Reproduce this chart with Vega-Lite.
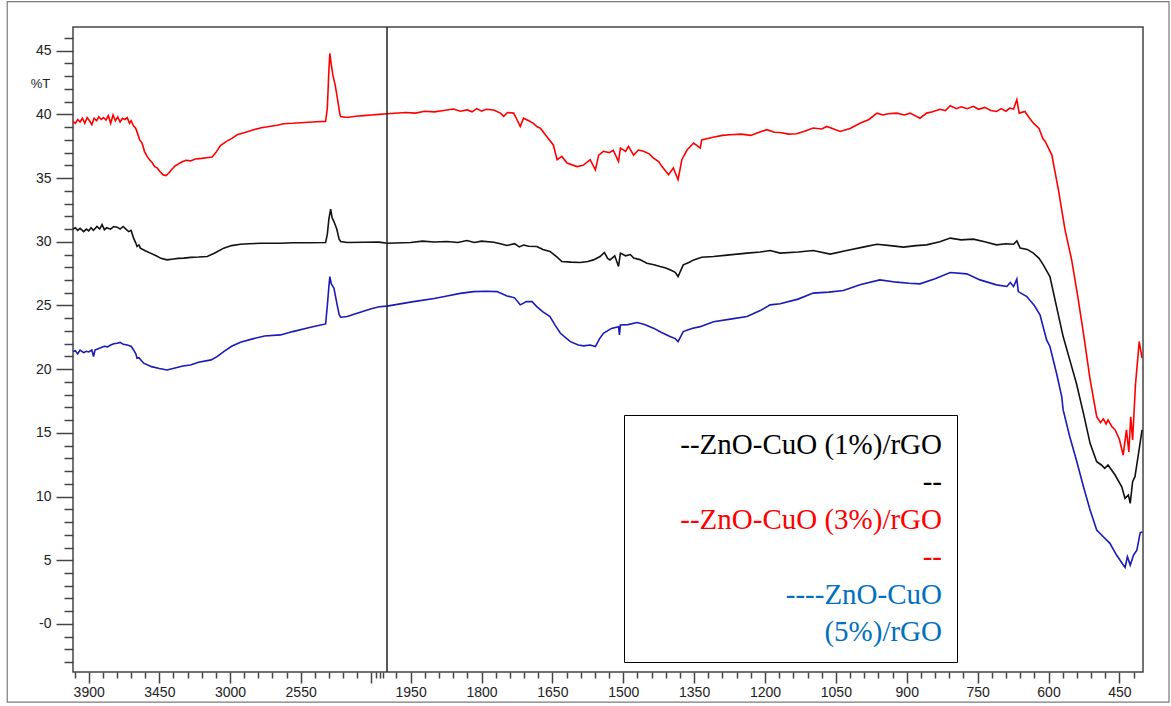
{
  "$schema": "https://vega.github.io/schema/vega-lite/v6.json",
  "width": 1070,
  "height": 645,
  "autosize": {"type": "none"},
  "padding": {"left": 73, "top": 27, "right": 28, "bottom": 34},
  "background": "#ffffff",
  "config": {
    "view": {"stroke": "#444444", "strokeWidth": 1.5},
    "font": "Liberation Sans"
  },
  "datasets": {
    "spectra": [
      {"sample": "ZnO-CuO (3%)/rGO", "wn": 4000, "T": 39.45}, {"sample": "ZnO-CuO (3%)/rGO", "wn": 3985, "T": 39.3}, {"sample": "ZnO-CuO (3%)/rGO", "wn": 3970, "T": 39.6}, {"sample": "ZnO-CuO (3%)/rGO", "wn": 3955, "T": 39.4}, {"sample": "ZnO-CuO (3%)/rGO", "wn": 3940, "T": 39.7}, {"sample": "ZnO-CuO (3%)/rGO", "wn": 3925, "T": 39.3}, {"sample": "ZnO-CuO (3%)/rGO", "wn": 3910, "T": 39.75}, {"sample": "ZnO-CuO (3%)/rGO", "wn": 3895, "T": 39.5}, {"sample": "ZnO-CuO (3%)/rGO", "wn": 3880, "T": 39.2}, {"sample": "ZnO-CuO (3%)/rGO", "wn": 3865, "T": 39.7}, {"sample": "ZnO-CuO (3%)/rGO", "wn": 3850, "T": 39.5}, {"sample": "ZnO-CuO (3%)/rGO", "wn": 3835, "T": 39.8}, {"sample": "ZnO-CuO (3%)/rGO", "wn": 3820, "T": 39.6}, {"sample": "ZnO-CuO (3%)/rGO", "wn": 3805, "T": 39.75}, {"sample": "ZnO-CuO (3%)/rGO", "wn": 3790, "T": 39.55}, {"sample": "ZnO-CuO (3%)/rGO", "wn": 3775, "T": 39.9}, {"sample": "ZnO-CuO (3%)/rGO", "wn": 3760, "T": 39.3}, {"sample": "ZnO-CuO (3%)/rGO", "wn": 3745, "T": 39.95}, {"sample": "ZnO-CuO (3%)/rGO", "wn": 3730, "T": 39.5}, {"sample": "ZnO-CuO (3%)/rGO", "wn": 3715, "T": 39.8}, {"sample": "ZnO-CuO (3%)/rGO", "wn": 3700, "T": 39.4}, {"sample": "ZnO-CuO (3%)/rGO", "wn": 3685, "T": 39.7}, {"sample": "ZnO-CuO (3%)/rGO", "wn": 3670, "T": 39.6}, {"sample": "ZnO-CuO (3%)/rGO", "wn": 3655, "T": 39.75}, {"sample": "ZnO-CuO (3%)/rGO", "wn": 3640, "T": 39.3}, {"sample": "ZnO-CuO (3%)/rGO", "wn": 3630, "T": 39.5}, {"sample": "ZnO-CuO (3%)/rGO", "wn": 3615, "T": 39.1}, {"sample": "ZnO-CuO (3%)/rGO", "wn": 3600, "T": 38.9}, {"sample": "ZnO-CuO (3%)/rGO", "wn": 3590, "T": 38.55}, {"sample": "ZnO-CuO (3%)/rGO", "wn": 3575, "T": 38.0}, {"sample": "ZnO-CuO (3%)/rGO", "wn": 3560, "T": 37.75}, {"sample": "ZnO-CuO (3%)/rGO", "wn": 3545, "T": 37.1}, {"sample": "ZnO-CuO (3%)/rGO", "wn": 3528, "T": 36.7}, {"sample": "ZnO-CuO (3%)/rGO", "wn": 3510, "T": 36.4}, {"sample": "ZnO-CuO (3%)/rGO", "wn": 3495, "T": 36.2}, {"sample": "ZnO-CuO (3%)/rGO", "wn": 3480, "T": 35.9}, {"sample": "ZnO-CuO (3%)/rGO", "wn": 3464, "T": 35.8}, {"sample": "ZnO-CuO (3%)/rGO", "wn": 3445, "T": 35.5}, {"sample": "ZnO-CuO (3%)/rGO", "wn": 3425, "T": 35.25}, {"sample": "ZnO-CuO (3%)/rGO", "wn": 3407, "T": 35.2}, {"sample": "ZnO-CuO (3%)/rGO", "wn": 3390, "T": 35.4}, {"sample": "ZnO-CuO (3%)/rGO", "wn": 3370, "T": 35.7}, {"sample": "ZnO-CuO (3%)/rGO", "wn": 3350, "T": 35.95}, {"sample": "ZnO-CuO (3%)/rGO", "wn": 3330, "T": 36.1}, {"sample": "ZnO-CuO (3%)/rGO", "wn": 3316, "T": 36.2}, {"sample": "ZnO-CuO (3%)/rGO", "wn": 3300, "T": 36.3}, {"sample": "ZnO-CuO (3%)/rGO", "wn": 3280, "T": 36.4}, {"sample": "ZnO-CuO (3%)/rGO", "wn": 3252, "T": 36.35}, {"sample": "ZnO-CuO (3%)/rGO", "wn": 3220, "T": 36.5}, {"sample": "ZnO-CuO (3%)/rGO", "wn": 3180, "T": 36.55}, {"sample": "ZnO-CuO (3%)/rGO", "wn": 3150, "T": 36.6}, {"sample": "ZnO-CuO (3%)/rGO", "wn": 3114, "T": 36.65}, {"sample": "ZnO-CuO (3%)/rGO", "wn": 3090, "T": 37.0}, {"sample": "ZnO-CuO (3%)/rGO", "wn": 3061, "T": 37.56}, {"sample": "ZnO-CuO (3%)/rGO", "wn": 3020, "T": 37.9}, {"sample": "ZnO-CuO (3%)/rGO", "wn": 2990, "T": 38.1}, {"sample": "ZnO-CuO (3%)/rGO", "wn": 2954, "T": 38.4}, {"sample": "ZnO-CuO (3%)/rGO", "wn": 2900, "T": 38.6}, {"sample": "ZnO-CuO (3%)/rGO", "wn": 2850, "T": 38.8}, {"sample": "ZnO-CuO (3%)/rGO", "wn": 2800, "T": 38.95}, {"sample": "ZnO-CuO (3%)/rGO", "wn": 2750, "T": 39.05}, {"sample": "ZnO-CuO (3%)/rGO", "wn": 2700, "T": 39.15}, {"sample": "ZnO-CuO (3%)/rGO", "wn": 2659, "T": 39.27}, {"sample": "ZnO-CuO (3%)/rGO", "wn": 2600, "T": 39.3}, {"sample": "ZnO-CuO (3%)/rGO", "wn": 2550, "T": 39.35}, {"sample": "ZnO-CuO (3%)/rGO", "wn": 2500, "T": 39.38}, {"sample": "ZnO-CuO (3%)/rGO", "wn": 2450, "T": 39.42}, {"sample": "ZnO-CuO (3%)/rGO", "wn": 2391, "T": 39.45}, {"sample": "ZnO-CuO (3%)/rGO", "wn": 2380, "T": 40.5}, {"sample": "ZnO-CuO (3%)/rGO", "wn": 2370, "T": 43.5}, {"sample": "ZnO-CuO (3%)/rGO", "wn": 2364, "T": 44.8}, {"sample": "ZnO-CuO (3%)/rGO", "wn": 2356, "T": 44.0}, {"sample": "ZnO-CuO (3%)/rGO", "wn": 2345, "T": 43.1}, {"sample": "ZnO-CuO (3%)/rGO", "wn": 2330, "T": 42.3}, {"sample": "ZnO-CuO (3%)/rGO", "wn": 2315, "T": 41.2}, {"sample": "ZnO-CuO (3%)/rGO", "wn": 2300, "T": 40.0}, {"sample": "ZnO-CuO (3%)/rGO", "wn": 2295, "T": 39.84}, {"sample": "ZnO-CuO (3%)/rGO", "wn": 2253, "T": 39.76}, {"sample": "ZnO-CuO (3%)/rGO", "wn": 2200, "T": 39.85}, {"sample": "ZnO-CuO (3%)/rGO", "wn": 2150, "T": 39.9}, {"sample": "ZnO-CuO (3%)/rGO", "wn": 2100, "T": 39.95}, {"sample": "ZnO-CuO (3%)/rGO", "wn": 2050, "T": 40.0}, {"sample": "ZnO-CuO (3%)/rGO", "wn": 2000, "T": 40.05}, {"sample": "ZnO-CuO (3%)/rGO", "wn": 1960, "T": 40.15}, {"sample": "ZnO-CuO (3%)/rGO", "wn": 1940, "T": 40.1}, {"sample": "ZnO-CuO (3%)/rGO", "wn": 1920, "T": 40.25}, {"sample": "ZnO-CuO (3%)/rGO", "wn": 1900, "T": 40.2}, {"sample": "ZnO-CuO (3%)/rGO", "wn": 1880, "T": 40.3}, {"sample": "ZnO-CuO (3%)/rGO", "wn": 1859, "T": 40.42}, {"sample": "ZnO-CuO (3%)/rGO", "wn": 1845, "T": 40.25}, {"sample": "ZnO-CuO (3%)/rGO", "wn": 1830, "T": 40.35}, {"sample": "ZnO-CuO (3%)/rGO", "wn": 1820, "T": 40.2}, {"sample": "ZnO-CuO (3%)/rGO", "wn": 1810, "T": 40.45}, {"sample": "ZnO-CuO (3%)/rGO", "wn": 1800, "T": 40.25}, {"sample": "ZnO-CuO (3%)/rGO", "wn": 1790, "T": 40.4}, {"sample": "ZnO-CuO (3%)/rGO", "wn": 1774, "T": 40.35}, {"sample": "ZnO-CuO (3%)/rGO", "wn": 1760, "T": 40.1}, {"sample": "ZnO-CuO (3%)/rGO", "wn": 1753, "T": 39.85}, {"sample": "ZnO-CuO (3%)/rGO", "wn": 1745, "T": 40.15}, {"sample": "ZnO-CuO (3%)/rGO", "wn": 1732, "T": 40.1}, {"sample": "ZnO-CuO (3%)/rGO", "wn": 1725, "T": 39.6}, {"sample": "ZnO-CuO (3%)/rGO", "wn": 1718, "T": 39.05}, {"sample": "ZnO-CuO (3%)/rGO", "wn": 1711, "T": 39.7}, {"sample": "ZnO-CuO (3%)/rGO", "wn": 1700, "T": 39.5}, {"sample": "ZnO-CuO (3%)/rGO", "wn": 1690, "T": 39.3}, {"sample": "ZnO-CuO (3%)/rGO", "wn": 1683, "T": 39.05}, {"sample": "ZnO-CuO (3%)/rGO", "wn": 1675, "T": 38.9}, {"sample": "ZnO-CuO (3%)/rGO", "wn": 1662, "T": 38.27}, {"sample": "ZnO-CuO (3%)/rGO", "wn": 1648, "T": 37.6}, {"sample": "ZnO-CuO (3%)/rGO", "wn": 1640, "T": 36.44}, {"sample": "ZnO-CuO (3%)/rGO", "wn": 1630, "T": 36.7}, {"sample": "ZnO-CuO (3%)/rGO", "wn": 1619, "T": 36.18}, {"sample": "ZnO-CuO (3%)/rGO", "wn": 1598, "T": 35.9}, {"sample": "ZnO-CuO (3%)/rGO", "wn": 1585, "T": 36.0}, {"sample": "ZnO-CuO (3%)/rGO", "wn": 1570, "T": 36.44}, {"sample": "ZnO-CuO (3%)/rGO", "wn": 1559, "T": 35.65}, {"sample": "ZnO-CuO (3%)/rGO", "wn": 1552, "T": 36.8}, {"sample": "ZnO-CuO (3%)/rGO", "wn": 1542, "T": 37.1}, {"sample": "ZnO-CuO (3%)/rGO", "wn": 1530, "T": 37.0}, {"sample": "ZnO-CuO (3%)/rGO", "wn": 1521, "T": 37.17}, {"sample": "ZnO-CuO (3%)/rGO", "wn": 1510, "T": 36.3}, {"sample": "ZnO-CuO (3%)/rGO", "wn": 1506, "T": 37.36}, {"sample": "ZnO-CuO (3%)/rGO", "wn": 1495, "T": 37.1}, {"sample": "ZnO-CuO (3%)/rGO", "wn": 1489, "T": 37.5}, {"sample": "ZnO-CuO (3%)/rGO", "wn": 1478, "T": 36.8}, {"sample": "ZnO-CuO (3%)/rGO", "wn": 1468, "T": 37.2}, {"sample": "ZnO-CuO (3%)/rGO", "wn": 1457, "T": 37.1}, {"sample": "ZnO-CuO (3%)/rGO", "wn": 1445, "T": 36.9}, {"sample": "ZnO-CuO (3%)/rGO", "wn": 1436, "T": 36.57}, {"sample": "ZnO-CuO (3%)/rGO", "wn": 1425, "T": 36.3}, {"sample": "ZnO-CuO (3%)/rGO", "wn": 1418, "T": 35.9}, {"sample": "ZnO-CuO (3%)/rGO", "wn": 1404, "T": 35.26}, {"sample": "ZnO-CuO (3%)/rGO", "wn": 1394, "T": 35.8}, {"sample": "ZnO-CuO (3%)/rGO", "wn": 1384, "T": 34.87}, {"sample": "ZnO-CuO (3%)/rGO", "wn": 1376, "T": 36.44}, {"sample": "ZnO-CuO (3%)/rGO", "wn": 1365, "T": 37.2}, {"sample": "ZnO-CuO (3%)/rGO", "wn": 1351, "T": 37.75}, {"sample": "ZnO-CuO (3%)/rGO", "wn": 1337, "T": 37.36}, {"sample": "ZnO-CuO (3%)/rGO", "wn": 1334, "T": 38.0}, {"sample": "ZnO-CuO (3%)/rGO", "wn": 1310, "T": 38.2}, {"sample": "ZnO-CuO (3%)/rGO", "wn": 1290, "T": 38.35}, {"sample": "ZnO-CuO (3%)/rGO", "wn": 1274, "T": 38.4}, {"sample": "ZnO-CuO (3%)/rGO", "wn": 1250, "T": 38.45}, {"sample": "ZnO-CuO (3%)/rGO", "wn": 1230, "T": 38.35}, {"sample": "ZnO-CuO (3%)/rGO", "wn": 1217, "T": 38.54}, {"sample": "ZnO-CuO (3%)/rGO", "wn": 1196, "T": 38.8}, {"sample": "ZnO-CuO (3%)/rGO", "wn": 1180, "T": 38.6}, {"sample": "ZnO-CuO (3%)/rGO", "wn": 1168, "T": 38.58}, {"sample": "ZnO-CuO (3%)/rGO", "wn": 1150, "T": 38.45}, {"sample": "ZnO-CuO (3%)/rGO", "wn": 1133, "T": 38.48}, {"sample": "ZnO-CuO (3%)/rGO", "wn": 1115, "T": 38.7}, {"sample": "ZnO-CuO (3%)/rGO", "wn": 1098, "T": 38.93}, {"sample": "ZnO-CuO (3%)/rGO", "wn": 1080, "T": 38.85}, {"sample": "ZnO-CuO (3%)/rGO", "wn": 1069, "T": 39.05}, {"sample": "ZnO-CuO (3%)/rGO", "wn": 1041, "T": 38.66}, {"sample": "ZnO-CuO (3%)/rGO", "wn": 1020, "T": 38.9}, {"sample": "ZnO-CuO (3%)/rGO", "wn": 999, "T": 39.31}, {"sample": "ZnO-CuO (3%)/rGO", "wn": 980, "T": 39.6}, {"sample": "ZnO-CuO (3%)/rGO", "wn": 963, "T": 40.1}, {"sample": "ZnO-CuO (3%)/rGO", "wn": 950, "T": 39.95}, {"sample": "ZnO-CuO (3%)/rGO", "wn": 940, "T": 40.05}, {"sample": "ZnO-CuO (3%)/rGO", "wn": 921, "T": 40.1}, {"sample": "ZnO-CuO (3%)/rGO", "wn": 905, "T": 39.95}, {"sample": "ZnO-CuO (3%)/rGO", "wn": 893, "T": 40.1}, {"sample": "ZnO-CuO (3%)/rGO", "wn": 872, "T": 39.7}, {"sample": "ZnO-CuO (3%)/rGO", "wn": 858, "T": 40.1}, {"sample": "ZnO-CuO (3%)/rGO", "wn": 845, "T": 40.2}, {"sample": "ZnO-CuO (3%)/rGO", "wn": 830, "T": 40.4}, {"sample": "ZnO-CuO (3%)/rGO", "wn": 818, "T": 40.3}, {"sample": "ZnO-CuO (3%)/rGO", "wn": 808, "T": 40.68}, {"sample": "ZnO-CuO (3%)/rGO", "wn": 795, "T": 40.45}, {"sample": "ZnO-CuO (3%)/rGO", "wn": 785, "T": 40.6}, {"sample": "ZnO-CuO (3%)/rGO", "wn": 772, "T": 40.45}, {"sample": "ZnO-CuO (3%)/rGO", "wn": 759, "T": 40.63}, {"sample": "ZnO-CuO (3%)/rGO", "wn": 748, "T": 40.4}, {"sample": "ZnO-CuO (3%)/rGO", "wn": 735, "T": 40.55}, {"sample": "ZnO-CuO (3%)/rGO", "wn": 722, "T": 40.3}, {"sample": "ZnO-CuO (3%)/rGO", "wn": 710, "T": 40.23}, {"sample": "ZnO-CuO (3%)/rGO", "wn": 700, "T": 40.45}, {"sample": "ZnO-CuO (3%)/rGO", "wn": 690, "T": 40.25}, {"sample": "ZnO-CuO (3%)/rGO", "wn": 682, "T": 40.5}, {"sample": "ZnO-CuO (3%)/rGO", "wn": 674, "T": 40.42}, {"sample": "ZnO-CuO (3%)/rGO", "wn": 667, "T": 41.15}, {"sample": "ZnO-CuO (3%)/rGO", "wn": 662, "T": 40.1}, {"sample": "ZnO-CuO (3%)/rGO", "wn": 650, "T": 40.23}, {"sample": "ZnO-CuO (3%)/rGO", "wn": 640, "T": 39.7}, {"sample": "ZnO-CuO (3%)/rGO", "wn": 632, "T": 39.31}, {"sample": "ZnO-CuO (3%)/rGO", "wn": 620, "T": 38.9}, {"sample": "ZnO-CuO (3%)/rGO", "wn": 612, "T": 38.1}, {"sample": "ZnO-CuO (3%)/rGO", "wn": 607, "T": 37.88}, {"sample": "ZnO-CuO (3%)/rGO", "wn": 593, "T": 36.83}, {"sample": "ZnO-CuO (3%)/rGO", "wn": 579, "T": 34.08}, {"sample": "ZnO-CuO (3%)/rGO", "wn": 565, "T": 30.94}, {"sample": "ZnO-CuO (3%)/rGO", "wn": 551, "T": 28.58}, {"sample": "ZnO-CuO (3%)/rGO", "wn": 538, "T": 25.7}, {"sample": "ZnO-CuO (3%)/rGO", "wn": 526, "T": 22.82}, {"sample": "ZnO-CuO (3%)/rGO", "wn": 512, "T": 19.2}, {"sample": "ZnO-CuO (3%)/rGO", "wn": 498, "T": 16.27}, {"sample": "ZnO-CuO (3%)/rGO", "wn": 490, "T": 15.8}, {"sample": "ZnO-CuO (3%)/rGO", "wn": 484, "T": 16.1}, {"sample": "ZnO-CuO (3%)/rGO", "wn": 478, "T": 15.7}, {"sample": "ZnO-CuO (3%)/rGO", "wn": 474, "T": 16.01}, {"sample": "ZnO-CuO (3%)/rGO", "wn": 466, "T": 15.5}, {"sample": "ZnO-CuO (3%)/rGO", "wn": 459, "T": 15.23}, {"sample": "ZnO-CuO (3%)/rGO", "wn": 450, "T": 14.5}, {"sample": "ZnO-CuO (3%)/rGO", "wn": 442, "T": 13.26}, {"sample": "ZnO-CuO (3%)/rGO", "wn": 435, "T": 15.23}, {"sample": "ZnO-CuO (3%)/rGO", "wn": 430, "T": 13.5}, {"sample": "ZnO-CuO (3%)/rGO", "wn": 426, "T": 16.27}, {"sample": "ZnO-CuO (3%)/rGO", "wn": 422, "T": 14.44}, {"sample": "ZnO-CuO (3%)/rGO", "wn": 416, "T": 18.76}, {"sample": "ZnO-CuO (3%)/rGO", "wn": 408, "T": 22.16}, {"sample": "ZnO-CuO (3%)/rGO", "wn": 402, "T": 20.86},

      {"sample": "ZnO-CuO (1%)/rGO", "wn": 4000, "T": 30.99}, {"sample": "ZnO-CuO (1%)/rGO", "wn": 3985, "T": 31.1}, {"sample": "ZnO-CuO (1%)/rGO", "wn": 3970, "T": 30.9}, {"sample": "ZnO-CuO (1%)/rGO", "wn": 3955, "T": 31.05}, {"sample": "ZnO-CuO (1%)/rGO", "wn": 3932, "T": 30.8}, {"sample": "ZnO-CuO (1%)/rGO", "wn": 3915, "T": 31.0}, {"sample": "ZnO-CuO (1%)/rGO", "wn": 3900, "T": 30.85}, {"sample": "ZnO-CuO (1%)/rGO", "wn": 3885, "T": 31.1}, {"sample": "ZnO-CuO (1%)/rGO", "wn": 3870, "T": 30.9}, {"sample": "ZnO-CuO (1%)/rGO", "wn": 3847, "T": 31.2}, {"sample": "ZnO-CuO (1%)/rGO", "wn": 3830, "T": 31.0}, {"sample": "ZnO-CuO (1%)/rGO", "wn": 3815, "T": 31.35}, {"sample": "ZnO-CuO (1%)/rGO", "wn": 3800, "T": 30.95}, {"sample": "ZnO-CuO (1%)/rGO", "wn": 3785, "T": 31.1}, {"sample": "ZnO-CuO (1%)/rGO", "wn": 3762, "T": 30.99}, {"sample": "ZnO-CuO (1%)/rGO", "wn": 3740, "T": 31.2}, {"sample": "ZnO-CuO (1%)/rGO", "wn": 3719, "T": 31.15}, {"sample": "ZnO-CuO (1%)/rGO", "wn": 3700, "T": 31.0}, {"sample": "ZnO-CuO (1%)/rGO", "wn": 3680, "T": 31.2}, {"sample": "ZnO-CuO (1%)/rGO", "wn": 3660, "T": 30.95}, {"sample": "ZnO-CuO (1%)/rGO", "wn": 3645, "T": 30.8}, {"sample": "ZnO-CuO (1%)/rGO", "wn": 3630, "T": 30.9}, {"sample": "ZnO-CuO (1%)/rGO", "wn": 3614, "T": 30.29}, {"sample": "ZnO-CuO (1%)/rGO", "wn": 3600, "T": 29.9}, {"sample": "ZnO-CuO (1%)/rGO", "wn": 3592, "T": 29.63}, {"sample": "ZnO-CuO (1%)/rGO", "wn": 3580, "T": 29.75}, {"sample": "ZnO-CuO (1%)/rGO", "wn": 3571, "T": 29.5}, {"sample": "ZnO-CuO (1%)/rGO", "wn": 3540, "T": 29.3}, {"sample": "ZnO-CuO (1%)/rGO", "wn": 3507, "T": 29.11}, {"sample": "ZnO-CuO (1%)/rGO", "wn": 3470, "T": 28.9}, {"sample": "ZnO-CuO (1%)/rGO", "wn": 3440, "T": 28.7}, {"sample": "ZnO-CuO (1%)/rGO", "wn": 3401, "T": 28.58}, {"sample": "ZnO-CuO (1%)/rGO", "wn": 3360, "T": 28.65}, {"sample": "ZnO-CuO (1%)/rGO", "wn": 3330, "T": 28.7}, {"sample": "ZnO-CuO (1%)/rGO", "wn": 3295, "T": 28.72}, {"sample": "ZnO-CuO (1%)/rGO", "wn": 3250, "T": 28.78}, {"sample": "ZnO-CuO (1%)/rGO", "wn": 3200, "T": 28.8}, {"sample": "ZnO-CuO (1%)/rGO", "wn": 3145, "T": 28.84}, {"sample": "ZnO-CuO (1%)/rGO", "wn": 3100, "T": 29.1}, {"sample": "ZnO-CuO (1%)/rGO", "wn": 3040, "T": 29.5}, {"sample": "ZnO-CuO (1%)/rGO", "wn": 2990, "T": 29.7}, {"sample": "ZnO-CuO (1%)/rGO", "wn": 2933, "T": 29.81}, {"sample": "ZnO-CuO (1%)/rGO", "wn": 2880, "T": 29.85}, {"sample": "ZnO-CuO (1%)/rGO", "wn": 2800, "T": 29.88}, {"sample": "ZnO-CuO (1%)/rGO", "wn": 2678, "T": 29.89}, {"sample": "ZnO-CuO (1%)/rGO", "wn": 2600, "T": 29.92}, {"sample": "ZnO-CuO (1%)/rGO", "wn": 2500, "T": 29.93}, {"sample": "ZnO-CuO (1%)/rGO", "wn": 2391, "T": 29.94}, {"sample": "ZnO-CuO (1%)/rGO", "wn": 2380, "T": 30.6}, {"sample": "ZnO-CuO (1%)/rGO", "wn": 2370, "T": 31.8}, {"sample": "ZnO-CuO (1%)/rGO", "wn": 2359, "T": 32.56}, {"sample": "ZnO-CuO (1%)/rGO", "wn": 2350, "T": 31.9}, {"sample": "ZnO-CuO (1%)/rGO", "wn": 2338, "T": 31.59}, {"sample": "ZnO-CuO (1%)/rGO", "wn": 2320, "T": 31.0}, {"sample": "ZnO-CuO (1%)/rGO", "wn": 2305, "T": 30.2}, {"sample": "ZnO-CuO (1%)/rGO", "wn": 2295, "T": 30.02}, {"sample": "ZnO-CuO (1%)/rGO", "wn": 2253, "T": 29.94}, {"sample": "ZnO-CuO (1%)/rGO", "wn": 2150, "T": 29.96}, {"sample": "ZnO-CuO (1%)/rGO", "wn": 2050, "T": 29.97}, {"sample": "ZnO-CuO (1%)/rGO", "wn": 2000, "T": 29.89}, {"sample": "ZnO-CuO (1%)/rGO", "wn": 1950, "T": 29.95}, {"sample": "ZnO-CuO (1%)/rGO", "wn": 1925, "T": 30.05}, {"sample": "ZnO-CuO (1%)/rGO", "wn": 1900, "T": 29.98}, {"sample": "ZnO-CuO (1%)/rGO", "wn": 1873, "T": 30.02}, {"sample": "ZnO-CuO (1%)/rGO", "wn": 1850, "T": 29.95}, {"sample": "ZnO-CuO (1%)/rGO", "wn": 1831, "T": 30.1}, {"sample": "ZnO-CuO (1%)/rGO", "wn": 1815, "T": 29.95}, {"sample": "ZnO-CuO (1%)/rGO", "wn": 1800, "T": 30.05}, {"sample": "ZnO-CuO (1%)/rGO", "wn": 1774, "T": 29.97}, {"sample": "ZnO-CuO (1%)/rGO", "wn": 1760, "T": 29.85}, {"sample": "ZnO-CuO (1%)/rGO", "wn": 1746, "T": 29.71}, {"sample": "ZnO-CuO (1%)/rGO", "wn": 1730, "T": 29.85}, {"sample": "ZnO-CuO (1%)/rGO", "wn": 1720, "T": 29.6}, {"sample": "ZnO-CuO (1%)/rGO", "wn": 1711, "T": 29.75}, {"sample": "ZnO-CuO (1%)/rGO", "wn": 1700, "T": 29.65}, {"sample": "ZnO-CuO (1%)/rGO", "wn": 1683, "T": 29.63}, {"sample": "ZnO-CuO (1%)/rGO", "wn": 1670, "T": 29.4}, {"sample": "ZnO-CuO (1%)/rGO", "wn": 1655, "T": 29.24}, {"sample": "ZnO-CuO (1%)/rGO", "wn": 1640, "T": 28.8}, {"sample": "ZnO-CuO (1%)/rGO", "wn": 1630, "T": 28.45}, {"sample": "ZnO-CuO (1%)/rGO", "wn": 1610, "T": 28.4}, {"sample": "ZnO-CuO (1%)/rGO", "wn": 1591, "T": 28.37}, {"sample": "ZnO-CuO (1%)/rGO", "wn": 1575, "T": 28.45}, {"sample": "ZnO-CuO (1%)/rGO", "wn": 1563, "T": 28.58}, {"sample": "ZnO-CuO (1%)/rGO", "wn": 1549, "T": 28.84}, {"sample": "ZnO-CuO (1%)/rGO", "wn": 1540, "T": 29.16}, {"sample": "ZnO-CuO (1%)/rGO", "wn": 1533, "T": 28.7}, {"sample": "ZnO-CuO (1%)/rGO", "wn": 1528, "T": 28.58}, {"sample": "ZnO-CuO (1%)/rGO", "wn": 1518, "T": 28.9}, {"sample": "ZnO-CuO (1%)/rGO", "wn": 1510, "T": 28.06}, {"sample": "ZnO-CuO (1%)/rGO", "wn": 1506, "T": 29.11}, {"sample": "ZnO-CuO (1%)/rGO", "wn": 1495, "T": 28.9}, {"sample": "ZnO-CuO (1%)/rGO", "wn": 1485, "T": 29.0}, {"sample": "ZnO-CuO (1%)/rGO", "wn": 1478, "T": 28.72}, {"sample": "ZnO-CuO (1%)/rGO", "wn": 1465, "T": 28.6}, {"sample": "ZnO-CuO (1%)/rGO", "wn": 1450, "T": 28.32}, {"sample": "ZnO-CuO (1%)/rGO", "wn": 1435, "T": 28.2}, {"sample": "ZnO-CuO (1%)/rGO", "wn": 1422, "T": 28.06}, {"sample": "ZnO-CuO (1%)/rGO", "wn": 1410, "T": 27.95}, {"sample": "ZnO-CuO (1%)/rGO", "wn": 1401, "T": 27.8}, {"sample": "ZnO-CuO (1%)/rGO", "wn": 1390, "T": 27.6}, {"sample": "ZnO-CuO (1%)/rGO", "wn": 1384, "T": 27.27}, {"sample": "ZnO-CuO (1%)/rGO", "wn": 1373, "T": 28.19}, {"sample": "ZnO-CuO (1%)/rGO", "wn": 1360, "T": 28.4}, {"sample": "ZnO-CuO (1%)/rGO", "wn": 1351, "T": 28.58}, {"sample": "ZnO-CuO (1%)/rGO", "wn": 1334, "T": 28.79}, {"sample": "ZnO-CuO (1%)/rGO", "wn": 1309, "T": 28.84}, {"sample": "ZnO-CuO (1%)/rGO", "wn": 1280, "T": 28.95}, {"sample": "ZnO-CuO (1%)/rGO", "wn": 1238, "T": 29.11}, {"sample": "ZnO-CuO (1%)/rGO", "wn": 1210, "T": 29.2}, {"sample": "ZnO-CuO (1%)/rGO", "wn": 1189, "T": 29.31}, {"sample": "ZnO-CuO (1%)/rGO", "wn": 1168, "T": 29.11}, {"sample": "ZnO-CuO (1%)/rGO", "wn": 1130, "T": 29.2}, {"sample": "ZnO-CuO (1%)/rGO", "wn": 1098, "T": 29.31}, {"sample": "ZnO-CuO (1%)/rGO", "wn": 1062, "T": 29.03}, {"sample": "ZnO-CuO (1%)/rGO", "wn": 1027, "T": 29.31}, {"sample": "ZnO-CuO (1%)/rGO", "wn": 990, "T": 29.6}, {"sample": "ZnO-CuO (1%)/rGO", "wn": 963, "T": 29.81}, {"sample": "ZnO-CuO (1%)/rGO", "wn": 935, "T": 29.7}, {"sample": "ZnO-CuO (1%)/rGO", "wn": 907, "T": 29.58}, {"sample": "ZnO-CuO (1%)/rGO", "wn": 880, "T": 29.7}, {"sample": "ZnO-CuO (1%)/rGO", "wn": 858, "T": 29.76}, {"sample": "ZnO-CuO (1%)/rGO", "wn": 830, "T": 30.0}, {"sample": "ZnO-CuO (1%)/rGO", "wn": 808, "T": 30.29}, {"sample": "ZnO-CuO (1%)/rGO", "wn": 785, "T": 30.15}, {"sample": "ZnO-CuO (1%)/rGO", "wn": 759, "T": 30.21}, {"sample": "ZnO-CuO (1%)/rGO", "wn": 735, "T": 30.0}, {"sample": "ZnO-CuO (1%)/rGO", "wn": 710, "T": 29.76}, {"sample": "ZnO-CuO (1%)/rGO", "wn": 690, "T": 29.85}, {"sample": "ZnO-CuO (1%)/rGO", "wn": 674, "T": 29.81}, {"sample": "ZnO-CuO (1%)/rGO", "wn": 667, "T": 30.07}, {"sample": "ZnO-CuO (1%)/rGO", "wn": 660, "T": 29.5}, {"sample": "ZnO-CuO (1%)/rGO", "wn": 645, "T": 29.4}, {"sample": "ZnO-CuO (1%)/rGO", "wn": 632, "T": 29.11}, {"sample": "ZnO-CuO (1%)/rGO", "wn": 620, "T": 28.7}, {"sample": "ZnO-CuO (1%)/rGO", "wn": 611, "T": 28.19}, {"sample": "ZnO-CuO (1%)/rGO", "wn": 597, "T": 27.27}, {"sample": "ZnO-CuO (1%)/rGO", "wn": 583, "T": 24.91}, {"sample": "ZnO-CuO (1%)/rGO", "wn": 569, "T": 22.56}, {"sample": "ZnO-CuO (1%)/rGO", "wn": 555, "T": 20.73}, {"sample": "ZnO-CuO (1%)/rGO", "wn": 541, "T": 18.9}, {"sample": "ZnO-CuO (1%)/rGO", "wn": 526, "T": 16.53}, {"sample": "ZnO-CuO (1%)/rGO", "wn": 512, "T": 14.18}, {"sample": "ZnO-CuO (1%)/rGO", "wn": 498, "T": 12.74}, {"sample": "ZnO-CuO (1%)/rGO", "wn": 488, "T": 12.48}, {"sample": "ZnO-CuO (1%)/rGO", "wn": 481, "T": 12.22}, {"sample": "ZnO-CuO (1%)/rGO", "wn": 474, "T": 12.48}, {"sample": "ZnO-CuO (1%)/rGO", "wn": 459, "T": 11.69}, {"sample": "ZnO-CuO (1%)/rGO", "wn": 445, "T": 10.77}, {"sample": "ZnO-CuO (1%)/rGO", "wn": 438, "T": 9.86}, {"sample": "ZnO-CuO (1%)/rGO", "wn": 431, "T": 10.12}, {"sample": "ZnO-CuO (1%)/rGO", "wn": 427, "T": 9.47}, {"sample": "ZnO-CuO (1%)/rGO", "wn": 422, "T": 11.17}, {"sample": "ZnO-CuO (1%)/rGO", "wn": 417, "T": 11.56}, {"sample": "ZnO-CuO (1%)/rGO", "wn": 410, "T": 13.26}, {"sample": "ZnO-CuO (1%)/rGO", "wn": 402, "T": 15.23},

      {"sample": "ZnO-CuO (5%)/rGO", "wn": 4000, "T": 21.38}, {"sample": "ZnO-CuO (5%)/rGO", "wn": 3985, "T": 21.45}, {"sample": "ZnO-CuO (5%)/rGO", "wn": 3970, "T": 21.2}, {"sample": "ZnO-CuO (5%)/rGO", "wn": 3955, "T": 21.5}, {"sample": "ZnO-CuO (5%)/rGO", "wn": 3932, "T": 21.3}, {"sample": "ZnO-CuO (5%)/rGO", "wn": 3915, "T": 21.4}, {"sample": "ZnO-CuO (5%)/rGO", "wn": 3900, "T": 21.35}, {"sample": "ZnO-CuO (5%)/rGO", "wn": 3880, "T": 21.5}, {"sample": "ZnO-CuO (5%)/rGO", "wn": 3869, "T": 20.99}, {"sample": "ZnO-CuO (5%)/rGO", "wn": 3860, "T": 21.5}, {"sample": "ZnO-CuO (5%)/rGO", "wn": 3847, "T": 21.57}, {"sample": "ZnO-CuO (5%)/rGO", "wn": 3820, "T": 21.7}, {"sample": "ZnO-CuO (5%)/rGO", "wn": 3800, "T": 21.8}, {"sample": "ZnO-CuO (5%)/rGO", "wn": 3780, "T": 21.75}, {"sample": "ZnO-CuO (5%)/rGO", "wn": 3760, "T": 21.9}, {"sample": "ZnO-CuO (5%)/rGO", "wn": 3740, "T": 22.0}, {"sample": "ZnO-CuO (5%)/rGO", "wn": 3719, "T": 22.04}, {"sample": "ZnO-CuO (5%)/rGO", "wn": 3700, "T": 22.1}, {"sample": "ZnO-CuO (5%)/rGO", "wn": 3680, "T": 21.95}, {"sample": "ZnO-CuO (5%)/rGO", "wn": 3655, "T": 21.9}, {"sample": "ZnO-CuO (5%)/rGO", "wn": 3630, "T": 21.8}, {"sample": "ZnO-CuO (5%)/rGO", "wn": 3614, "T": 21.51}, {"sample": "ZnO-CuO (5%)/rGO", "wn": 3600, "T": 21.2}, {"sample": "ZnO-CuO (5%)/rGO", "wn": 3592, "T": 20.86}, {"sample": "ZnO-CuO (5%)/rGO", "wn": 3580, "T": 20.9}, {"sample": "ZnO-CuO (5%)/rGO", "wn": 3550, "T": 20.47}, {"sample": "ZnO-CuO (5%)/rGO", "wn": 3500, "T": 20.2}, {"sample": "ZnO-CuO (5%)/rGO", "wn": 3450, "T": 20.05}, {"sample": "ZnO-CuO (5%)/rGO", "wn": 3401, "T": 19.94}, {"sample": "ZnO-CuO (5%)/rGO", "wn": 3350, "T": 20.1}, {"sample": "ZnO-CuO (5%)/rGO", "wn": 3300, "T": 20.25}, {"sample": "ZnO-CuO (5%)/rGO", "wn": 3252, "T": 20.33}, {"sample": "ZnO-CuO (5%)/rGO", "wn": 3200, "T": 20.55}, {"sample": "ZnO-CuO (5%)/rGO", "wn": 3120, "T": 20.73}, {"sample": "ZnO-CuO (5%)/rGO", "wn": 3080, "T": 21.0}, {"sample": "ZnO-CuO (5%)/rGO", "wn": 3040, "T": 21.38}, {"sample": "ZnO-CuO (5%)/rGO", "wn": 2990, "T": 21.8}, {"sample": "ZnO-CuO (5%)/rGO", "wn": 2933, "T": 22.12}, {"sample": "ZnO-CuO (5%)/rGO", "wn": 2850, "T": 22.4}, {"sample": "ZnO-CuO (5%)/rGO", "wn": 2780, "T": 22.6}, {"sample": "ZnO-CuO (5%)/rGO", "wn": 2678, "T": 22.69}, {"sample": "ZnO-CuO (5%)/rGO", "wn": 2600, "T": 22.95}, {"sample": "ZnO-CuO (5%)/rGO", "wn": 2500, "T": 23.25}, {"sample": "ZnO-CuO (5%)/rGO", "wn": 2430, "T": 23.45}, {"sample": "ZnO-CuO (5%)/rGO", "wn": 2391, "T": 23.55}, {"sample": "ZnO-CuO (5%)/rGO", "wn": 2380, "T": 25.0}, {"sample": "ZnO-CuO (5%)/rGO", "wn": 2370, "T": 26.5}, {"sample": "ZnO-CuO (5%)/rGO", "wn": 2364, "T": 27.27}, {"sample": "ZnO-CuO (5%)/rGO", "wn": 2355, "T": 26.7}, {"sample": "ZnO-CuO (5%)/rGO", "wn": 2338, "T": 26.36}, {"sample": "ZnO-CuO (5%)/rGO", "wn": 2320, "T": 25.2}, {"sample": "ZnO-CuO (5%)/rGO", "wn": 2305, "T": 24.3}, {"sample": "ZnO-CuO (5%)/rGO", "wn": 2295, "T": 24.08}, {"sample": "ZnO-CuO (5%)/rGO", "wn": 2253, "T": 24.13}, {"sample": "ZnO-CuO (5%)/rGO", "wn": 2200, "T": 24.35}, {"sample": "ZnO-CuO (5%)/rGO", "wn": 2150, "T": 24.55}, {"sample": "ZnO-CuO (5%)/rGO", "wn": 2100, "T": 24.75}, {"sample": "ZnO-CuO (5%)/rGO", "wn": 2050, "T": 24.9}, {"sample": "ZnO-CuO (5%)/rGO", "wn": 2000, "T": 24.95}, {"sample": "ZnO-CuO (5%)/rGO", "wn": 1944, "T": 25.3}, {"sample": "ZnO-CuO (5%)/rGO", "wn": 1900, "T": 25.55}, {"sample": "ZnO-CuO (5%)/rGO", "wn": 1873, "T": 25.75}, {"sample": "ZnO-CuO (5%)/rGO", "wn": 1845, "T": 25.95}, {"sample": "ZnO-CuO (5%)/rGO", "wn": 1817, "T": 26.09}, {"sample": "ZnO-CuO (5%)/rGO", "wn": 1790, "T": 26.12}, {"sample": "ZnO-CuO (5%)/rGO", "wn": 1767, "T": 26.09}, {"sample": "ZnO-CuO (5%)/rGO", "wn": 1746, "T": 25.75}, {"sample": "ZnO-CuO (5%)/rGO", "wn": 1730, "T": 25.6}, {"sample": "ZnO-CuO (5%)/rGO", "wn": 1718, "T": 25.05}, {"sample": "ZnO-CuO (5%)/rGO", "wn": 1705, "T": 25.3}, {"sample": "ZnO-CuO (5%)/rGO", "wn": 1693, "T": 25.3}, {"sample": "ZnO-CuO (5%)/rGO", "wn": 1683, "T": 24.91}, {"sample": "ZnO-CuO (5%)/rGO", "wn": 1670, "T": 24.5}, {"sample": "ZnO-CuO (5%)/rGO", "wn": 1655, "T": 24.13}, {"sample": "ZnO-CuO (5%)/rGO", "wn": 1645, "T": 23.5}, {"sample": "ZnO-CuO (5%)/rGO", "wn": 1633, "T": 22.82}, {"sample": "ZnO-CuO (5%)/rGO", "wn": 1612, "T": 22.16}, {"sample": "ZnO-CuO (5%)/rGO", "wn": 1595, "T": 21.9}, {"sample": "ZnO-CuO (5%)/rGO", "wn": 1584, "T": 21.83}, {"sample": "ZnO-CuO (5%)/rGO", "wn": 1570, "T": 21.9}, {"sample": "ZnO-CuO (5%)/rGO", "wn": 1559, "T": 21.78}, {"sample": "ZnO-CuO (5%)/rGO", "wn": 1550, "T": 22.4}, {"sample": "ZnO-CuO (5%)/rGO", "wn": 1542, "T": 22.82}, {"sample": "ZnO-CuO (5%)/rGO", "wn": 1525, "T": 23.2}, {"sample": "ZnO-CuO (5%)/rGO", "wn": 1510, "T": 23.34}, {"sample": "ZnO-CuO (5%)/rGO", "wn": 1508, "T": 22.69}, {"sample": "ZnO-CuO (5%)/rGO", "wn": 1506, "T": 23.47}, {"sample": "ZnO-CuO (5%)/rGO", "wn": 1490, "T": 23.5}, {"sample": "ZnO-CuO (5%)/rGO", "wn": 1471, "T": 23.66}, {"sample": "ZnO-CuO (5%)/rGO", "wn": 1455, "T": 23.5}, {"sample": "ZnO-CuO (5%)/rGO", "wn": 1436, "T": 23.22}, {"sample": "ZnO-CuO (5%)/rGO", "wn": 1420, "T": 22.9}, {"sample": "ZnO-CuO (5%)/rGO", "wn": 1401, "T": 22.56}, {"sample": "ZnO-CuO (5%)/rGO", "wn": 1390, "T": 22.4}, {"sample": "ZnO-CuO (5%)/rGO", "wn": 1384, "T": 22.16}, {"sample": "ZnO-CuO (5%)/rGO", "wn": 1373, "T": 22.95}, {"sample": "ZnO-CuO (5%)/rGO", "wn": 1355, "T": 23.2}, {"sample": "ZnO-CuO (5%)/rGO", "wn": 1337, "T": 23.34}, {"sample": "ZnO-CuO (5%)/rGO", "wn": 1309, "T": 23.73}, {"sample": "ZnO-CuO (5%)/rGO", "wn": 1270, "T": 23.95}, {"sample": "ZnO-CuO (5%)/rGO", "wn": 1238, "T": 24.13}, {"sample": "ZnO-CuO (5%)/rGO", "wn": 1210, "T": 24.6}, {"sample": "ZnO-CuO (5%)/rGO", "wn": 1189, "T": 25.05}, {"sample": "ZnO-CuO (5%)/rGO", "wn": 1168, "T": 25.13}, {"sample": "ZnO-CuO (5%)/rGO", "wn": 1130, "T": 25.5}, {"sample": "ZnO-CuO (5%)/rGO", "wn": 1098, "T": 25.97}, {"sample": "ZnO-CuO (5%)/rGO", "wn": 1065, "T": 26.05}, {"sample": "ZnO-CuO (5%)/rGO", "wn": 1034, "T": 26.17}, {"sample": "ZnO-CuO (5%)/rGO", "wn": 999, "T": 26.62}, {"sample": "ZnO-CuO (5%)/rGO", "wn": 957, "T": 27.01}, {"sample": "ZnO-CuO (5%)/rGO", "wn": 921, "T": 26.83}, {"sample": "ZnO-CuO (5%)/rGO", "wn": 895, "T": 26.75}, {"sample": "ZnO-CuO (5%)/rGO", "wn": 872, "T": 26.7}, {"sample": "ZnO-CuO (5%)/rGO", "wn": 840, "T": 27.1}, {"sample": "ZnO-CuO (5%)/rGO", "wn": 808, "T": 27.59}, {"sample": "ZnO-CuO (5%)/rGO", "wn": 773, "T": 27.48}, {"sample": "ZnO-CuO (5%)/rGO", "wn": 745, "T": 27.01}, {"sample": "ZnO-CuO (5%)/rGO", "wn": 710, "T": 26.62}, {"sample": "ZnO-CuO (5%)/rGO", "wn": 688, "T": 26.49}, {"sample": "ZnO-CuO (5%)/rGO", "wn": 681, "T": 26.8}, {"sample": "ZnO-CuO (5%)/rGO", "wn": 674, "T": 26.49}, {"sample": "ZnO-CuO (5%)/rGO", "wn": 667, "T": 27.07}, {"sample": "ZnO-CuO (5%)/rGO", "wn": 664, "T": 26.09}, {"sample": "ZnO-CuO (5%)/rGO", "wn": 646, "T": 25.7}, {"sample": "ZnO-CuO (5%)/rGO", "wn": 630, "T": 25.0}, {"sample": "ZnO-CuO (5%)/rGO", "wn": 618, "T": 24.26}, {"sample": "ZnO-CuO (5%)/rGO", "wn": 604, "T": 22.3}, {"sample": "ZnO-CuO (5%)/rGO", "wn": 597, "T": 21.78}, {"sample": "ZnO-CuO (5%)/rGO", "wn": 583, "T": 19.68}, {"sample": "ZnO-CuO (5%)/rGO", "wn": 572, "T": 17.85}, {"sample": "ZnO-CuO (5%)/rGO", "wn": 569, "T": 16.8}, {"sample": "ZnO-CuO (5%)/rGO", "wn": 555, "T": 14.7}, {"sample": "ZnO-CuO (5%)/rGO", "wn": 541, "T": 12.87}, {"sample": "ZnO-CuO (5%)/rGO", "wn": 526, "T": 10.77}, {"sample": "ZnO-CuO (5%)/rGO", "wn": 512, "T": 8.94}, {"sample": "ZnO-CuO (5%)/rGO", "wn": 498, "T": 7.37}, {"sample": "ZnO-CuO (5%)/rGO", "wn": 484, "T": 6.85}, {"sample": "ZnO-CuO (5%)/rGO", "wn": 470, "T": 6.33}, {"sample": "ZnO-CuO (5%)/rGO", "wn": 456, "T": 5.41}, {"sample": "ZnO-CuO (5%)/rGO", "wn": 438, "T": 4.44}, {"sample": "ZnO-CuO (5%)/rGO", "wn": 433, "T": 5.28}, {"sample": "ZnO-CuO (5%)/rGO", "wn": 427, "T": 4.62}, {"sample": "ZnO-CuO (5%)/rGO", "wn": 420, "T": 5.41}, {"sample": "ZnO-CuO (5%)/rGO", "wn": 413, "T": 5.8}, {"sample": "ZnO-CuO (5%)/rGO", "wn": 406, "T": 7.16}, {"sample": "ZnO-CuO (5%)/rGO", "wn": 401, "T": 7.24}
    ],
    "axisBreak": [{"wn": 2000}]
  },
  "layer": [
    {
      "data": {"name": "spectra"},
      "mark": {"type": "line", "strokeWidth": 1.6, "interpolate": "linear"},
      "encoding": {
        "x": {
          "field": "wn",
          "type": "quantitative",
          "scale": {"domain": [4000, 2000, 400], "range": [0, 314, 1070], "nice": false, "zero": false},
          "axis": {
            "title": null,
            "domain": false,
            "grid": false,
            "format": "d",
            "tickCount": 500,
            "values": [3990, 3900, 3810, 3720, 3630, 3540, 3450, 3360, 3270, 3180, 3090, 3000, 2910, 2820, 2730, 2640, 2550, 2460, 2370, 2280, 2190, 2100, 2072, 2045, 2023, 1980, 1950, 1920, 1890, 1860, 1830, 1800, 1770, 1740, 1710, 1680, 1650, 1620, 1590, 1560, 1530, 1500, 1470, 1440, 1410, 1380, 1350, 1320, 1290, 1260, 1230, 1200, 1170, 1140, 1110, 1080, 1050, 1020, 990, 960, 930, 900, 870, 840, 810, 780, 750, 720, 690, 660, 630, 600, 570, 540, 510, 480, 450, 420],
            "labelExpr": "indexof([3900,3450,3000,2550,1950,1800,1650,1500,1350,1200,1050,900,750,600,450], datum.value) >= 0 ? datum.label : ''",
            "tickSize": {"condition": {"test": "indexof([3900,3450,3000,2550,2100,1950,1800,1650,1500,1350,1200,1050,900,750,600,450], datum.value) >= 0", "value": 11}, "value": 6},
            "tickColor": "#444444",
            "tickWidth": 1.5,
            "labelFont": "Liberation Sans",
            "labelFontSize": 14,
            "labelColor": "#222222",
            "labelPadding": 2,
            "labelOverlap": false,
            "labelFlush": false,
            "labelBound": false
          }
        },
        "y": {
          "field": "T",
          "type": "quantitative",
          "scale": {"domain": [-3.77, 46.86], "nice": false, "zero": false},
          "axis": {
            "title": "%T",
            "titleAngle": 0,
            "titleX": -33,
            "titleY": 56,
            "titleAlign": "center",
            "titleBaseline": "middle",
            "titleFont": "Liberation Sans",
            "titleFontSize": 13,
            "titleFontWeight": "normal",
            "titleColor": "#222222",
            "domain": false,
            "grid": false,
            "format": "d",
            "tickCount": 500,
            "values": [-3, -2, -1, 0, 1, 2, 3, 4, 5, 6, 7, 8, 9, 10, 11, 12, 13, 14, 15, 16, 17, 18, 19, 20, 21, 22, 23, 24, 25, 26, 27, 28, 29, 30, 31, 32, 33, 34, 35, 36, 37, 38, 39, 40, 41, 42, 43, 44, 45, 46],
            "labelExpr": "datum.value % 5 === 0 ? (datum.value === 0 ? '-0' : datum.label) : ''",
            "tickSize": {"condition": {"test": "datum.value % 5 === 0", "value": 17}, "value": 9},
            "tickColor": "#444444",
            "tickWidth": 1.5,
            "labelFont": "Liberation Sans",
            "labelFontSize": 14,
            "labelColor": "#222222",
            "labelPadding": 5,
            "labelOverlap": false,
            "labelFlush": false,
            "labelBound": false
          }
        },
        "color": {
          "field": "sample",
          "type": "nominal",
          "scale": {"domain": ["ZnO-CuO (1%)/rGO", "ZnO-CuO (3%)/rGO", "ZnO-CuO (5%)/rGO"], "range": ["#111111", "#ff0000", "#1a1ab8"]},
          "legend": {
            "orient": "none",
            "legendX": 551,
            "legendY": 388,
            "title": null,
            "direction": "vertical",
            "symbolOpacity": 0,
            "symbolSize": 0,
            "symbolStrokeWidth": 0,
            "labelOffset": 274,
            "labelAlign": "right",
            "labelLimit": 0,
            "labelFont": "Liberation Serif",
            "labelFontSize": 29,
            "rowPadding": 8,
            "padding": 15,
            "strokeColor": "#000000",
            "fillColor": "#ffffff",
            "labelExpr": "datum.value === 'ZnO-CuO (1%)/rGO' ? ['--ZnO-CuO (1%)/rGO', '--'] : datum.value === 'ZnO-CuO (3%)/rGO' ? ['--ZnO-CuO (3%)/rGO', '--'] : ['----ZnO-CuO', '(5%)/rGO']",
            "encode": {
              "labels": {
                "update": {
                  "fill": {"signal": "datum.value === 'ZnO-CuO (1%)/rGO' ? '#000000' : datum.value === 'ZnO-CuO (3%)/rGO' ? '#ff0000' : '#0070c0'"},
                  "lineHeight": {"value": 37}
                }
              }
            }
          }
        }
      }
    },
    {
      "data": {"name": "axisBreak"},
      "mark": {"type": "rule", "color": "#222222", "strokeWidth": 1.5},
      "encoding": {"x": {"field": "wn", "type": "quantitative"}}
    },
    {
      "data": {"values": [{}]},
      "mark": {"type": "rect", "fillOpacity": 0, "stroke": "#7a7a7a", "strokeWidth": 1.2, "clip": false},
      "encoding": {
        "x": {"datum": 4419, "type": "quantitative"},
        "x2": {"datum": 345},
        "y": {"datum": 48.85, "type": "quantitative"},
        "y2": {"datum": -6.14}
      }
    }
  ]
}
